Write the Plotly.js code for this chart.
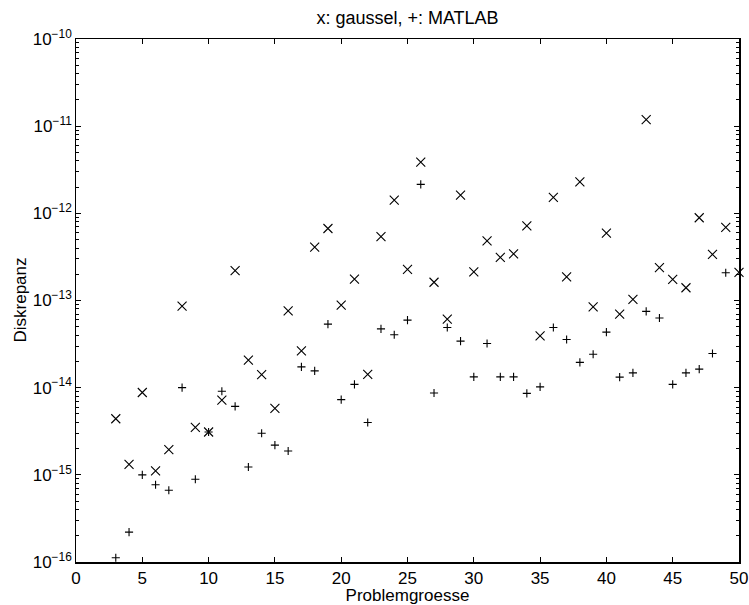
<!DOCTYPE html>
<html>
<head>
<meta charset="utf-8">
<script src="https://cdn.plot.ly/plotly-3.0.1.min.js"></script>
<style>html,body{margin:0;padding:0;background:#fff;}#chart{width:749px;height:605px;}</style>
</head>
<body>
<div id="chart"></div>
<script>
// Problem sizes
var nGauss = [3,4,5,6,7,8,9,10,11,12,13,14,15,16,17,18,19,20,21,22,23,24,25,26,27,28,29,30,31,32,33,34,35,36,37,38,39,40,41,42,43,44,45,46,47,48,49,50];
// discrepancy, gaussel (x markers)
var discGauss = [4.4e-15,1.32e-15,8.8e-15,1.11e-15,1.95e-15,8.6e-14,3.5e-15,3.1e-15,7.2e-15,2.2e-13,2.07e-14,1.41e-14,5.8e-15,7.6e-14,2.64e-14,4.1e-13,6.7e-13,8.85e-14,1.76e-13,1.42e-14,5.4e-13,1.42e-12,2.27e-13,3.87e-12,1.62e-13,6.1e-14,1.62e-12,2.13e-13,4.84e-13,3.12e-13,3.43e-13,7.2e-13,3.93e-14,1.52e-12,1.87e-13,2.29e-12,8.47e-14,5.93e-13,6.97e-14,1.03e-13,1.19e-11,2.39e-13,1.75e-13,1.4e-13,8.9e-13,3.38e-13,6.9e-13,2.1e-13];
var nMatlab = [3,4,5,6,7,8,9,10,11,12,13,14,15,16,17,18,19,20,21,22,23,24,25,26,27,28,29,30,31,32,33,34,35,36,37,38,39,40,41,42,43,44,45,46,47,48,49];
// discrepancy, MATLAB (+ markers)
var discMatlab = [1.12e-16,2.2e-16,1.0e-15,7.7e-16,6.65e-16,1.0e-14,8.9e-16,3.1e-15,9.1e-15,6.1e-15,1.23e-15,3.0e-15,2.19e-15,1.88e-15,1.73e-14,1.56e-14,5.36e-14,7.3e-15,1.09e-14,3.98e-15,4.73e-14,4.04e-14,5.95e-14,2.15e-12,8.7e-15,4.9e-14,3.42e-14,1.33e-14,3.21e-14,1.33e-14,1.33e-14,8.6e-15,1.02e-14,4.9e-14,3.57e-14,1.95e-14,2.42e-14,4.34e-14,1.32e-14,1.48e-14,7.5e-14,6.3e-14,1.09e-14,1.48e-14,1.63e-14,2.47e-14,2.08e-13];
var xTicks = [0,5,10,15,20,25,30,35,40,45,50];

var font = {family: '"Liberation Sans", Arial, Helvetica, sans-serif', color: '#000'};

var traces = [
  {x: nGauss, y: discGauss, type: 'scatter', mode: 'markers', name: 'gaussel', cliponaxis: false,
   marker: {symbol: 'x-thin-open', size: 9, color: '#000', line: {color: '#000', width: 1.1}}},
  {x: nMatlab, y: discMatlab, type: 'scatter', mode: 'markers', name: 'MATLAB', cliponaxis: false,
   marker: {symbol: 'cross-thin-open', size: 5.8, color: '#000', line: {color: '#000', width: 1.1}}}
];

var layout = {
  width: 749, height: 605,
  margin: {l: 76, r: 10, t: 39, b: 43, pad: 0},
  paper_bgcolor: '#fff', plot_bgcolor: '#fff',
  showlegend: false,
  font: Object.assign({size: 17}, font),
  title: {text: 'x: gaussel, +: MATLAB', font: Object.assign({size: 18}, font), x: 0.5, xref: 'paper', xanchor: 'center', y: 1, yref: 'paper', yanchor: 'bottom', pad: {b: 15}},
  xaxis: {
    range: [0, 50], tickvals: xTicks, ticktext: xTicks.map(String),
    ticks: 'inside', ticklen: 5, tickwidth: 1, tickcolor: '#000',
    showline: true, linecolor: '#000', linewidth: 1.5, mirror: 'ticks',
    showgrid: false, zeroline: false, automargin: false,
    tickfont: Object.assign({size: 17}, font),
    title: {text: 'Problemgroesse', font: Object.assign({size: 17}, font), standoff: 2}
  },
  yaxis: {
    type: 'log', range: [-16, -10], dtick: 1, exponentformat: 'power',
    ticks: 'inside', ticklen: 5, tickwidth: 1, tickcolor: '#000',
    minor: {ticks: 'inside', ticklen: 3, tickcolor: '#000', dtick: 'D1', showgrid: false},
    showline: true, linecolor: '#000', linewidth: 1.5, mirror: 'ticks',
    showgrid: false, zeroline: false, automargin: false,
    tickfont: Object.assign({size: 13.6}, font)
  },
  annotations: [
    {text: 'Diskrepanz', xref: 'paper', yref: 'paper', x: 0, y: 0.5, xanchor: 'center', yanchor: 'middle',
     xshift: -56, textangle: -90, showarrow: false, font: Object.assign({size: 17}, font)}
  ]
};

Plotly.newPlot('chart', traces, layout, {displayModeBar: false, staticPlot: true});
</script>
</body>
</html>
